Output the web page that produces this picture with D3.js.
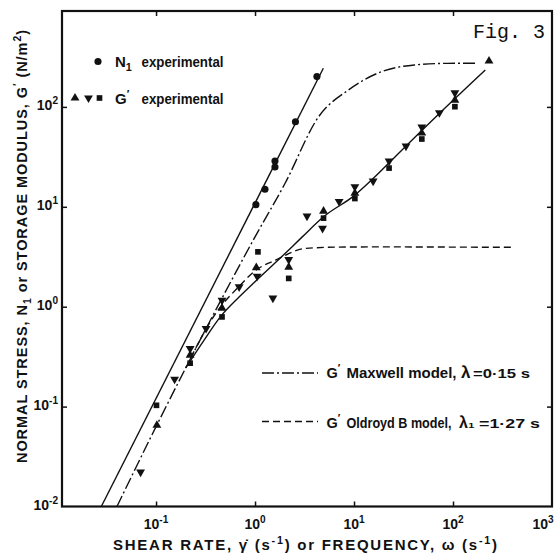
<!DOCTYPE html>
<html>
<head>
<meta charset="utf-8">
<script src="https://cdn.jsdelivr.net/npm/d3@7"></script>
<style>
  body { margin: 0; background: #fff; }
  text { font-family: "Liberation Sans", Arial, sans-serif; font-weight: bold; fill: #111; }
</style>
</head>
<body>
<div id="viz"></div>
<script>
// N1 experimental: shear rate (1/s), N1 (N/m2)
let n1Rate = [1.02, 1.26, 1.59, 1.59, 2.56, 4.22];
let n1Value = [10.5, 15.0, 25.0, 28.7, 71.1, 201];

// G' experimental, one array pair per symbol
let upFreq = [0.102, 0.221, 0.464, 1.03, 2.19, 4.92, 10.2, 48.4, 104.5, 231];
let upValue = [0.065, 0.327, 0.966, 2.46, 2.49, 9.06, 13.7, 54.8, 117, 288];

let downFreq = [0.0698, 0.154, 0.221, 0.32, 0.464, 0.691, 1.05, 1.515, 2.19, 3.35, 4.81, 7.07, 10.2, 15.6, 22.6, 33.5, 48.4, 72.8, 104.5];
let downValue = [0.0221, 0.188, 0.38, 0.605, 1.16, 1.58, 2.02, 1.22, 2.96, 8.07, 6.08, 11.3, 15.9, 18.1, 28.7, 40.6, 62.9, 87.5, 138];

let squareFreq = [0.101, 0.221, 0.464, 1.07, 2.19, 4.92, 10.2, 22.6, 48.4, 104.5];
let squareValue = [0.103, 0.272, 0.79, 3.54, 1.92, 7.7, 12.1, 24.4, 47.7, 100.5];

// fitted N1 line
let n1FitRate = [0.028, 4.9];
let n1FitValue = [0.01, 244];

// fitted G' curve
let gFitFreq = [0.2, 0.3, 0.45, 0.69, 1.0, 1.88, 3.0, 4.92, 10.2, 15, 30, 72.8, 212];
let gFitValue = [0.245, 0.45, 0.8, 1.25, 1.78, 3.2, 5.0, 7.95, 13.1, 18.5, 36.5, 86, 234];

// Maxwell model, lambda = 0.15 s
let maxwellFreq = [0.0401, 0.1, 0.2, 0.5, 1, 2, 4.4, 8.8, 18.9, 40.9, 88, 177];
let maxwellValue = [0.0099, 0.063, 0.245, 1.4, 5.0, 17, 80, 148, 225, 263, 273, 274];

// Oldroyd B model, lambda1 = 1.27 s
let oldroydFreq = [0.2, 0.4, 0.69, 1.02, 1.61, 3.22, 7, 20, 100, 412];
let oldroydValue = [0.245, 0.855, 1.6, 2.32, 2.92, 3.83, 3.95, 3.97, 3.95, 3.93];

let xTicks = [0.1, 1, 10, 100, 1000];
let xTickExp = ["-1", "0", "1", "2", "3"];
let yTicks = [0.01, 0.1, 1, 10, 100];
let yTickExp = ["-2", "-1", "0", "1", "2"];

let width = 556, height = 553;
let plotLeft = 62, plotRight = 552, plotTop = 11, plotBottom = 506.5;
let ink = "#111";

let svg = d3.select("#viz").append("svg")
  .attr("width", width)
  .attr("height", height);

let x = d3.scaleLog().domain([Math.pow(10, -1.95), 1000]).range([plotLeft, plotRight]);
let y = d3.scaleLog().domain([0.01, Math.pow(10, 2.96)]).range([plotBottom, plotTop]);

// text with sup (-1) / sub (1) pieces
function richText(t, parts) {
  let prev = 0;
  parts.forEach(function (p) {
    let off = p[1] === -1 ? -6 : p[1] === 1 ? 4 : 0;
    let ts = t.append("tspan").text(p[0]).attr("dy", off - prev);
    if (p[1] !== 0) ts.attr("font-size", "0.72em");
    prev = off;
  });
  return t;
}

svg.append("clipPath").attr("id", "plot")
  .append("rect")
  .attr("x", plotLeft).attr("y", plotTop)
  .attr("width", plotRight - plotLeft).attr("height", plotBottom - plotTop);

// axes with inward ticks
let tickLen = 5;
svg.append("g").attr("transform", `translate(0,${plotBottom})`)
  .call(d3.axisBottom(x).tickValues(xTicks.slice(0, 4)).tickSizeInner(-tickLen).tickSizeOuter(0).tickFormat(""));
svg.append("g").attr("transform", `translate(0,${plotTop})`)
  .call(d3.axisTop(x).tickValues(xTicks.slice(0, 4)).tickSizeInner(-tickLen).tickSizeOuter(0).tickFormat(""));
svg.append("g").attr("transform", `translate(${plotLeft},0)`)
  .call(d3.axisLeft(y).tickValues(yTicks.slice(1)).tickSizeInner(-tickLen).tickSizeOuter(0).tickFormat(""));
svg.append("g").attr("transform", `translate(${plotRight},0)`)
  .call(d3.axisRight(y).tickValues(yTicks.slice(1)).tickSizeInner(-tickLen).tickSizeOuter(0).tickFormat(""));
svg.selectAll(".domain").remove();
svg.selectAll(".tick line").attr("stroke", ink).attr("stroke-width", 1.5);

svg.append("rect")
  .attr("x", plotLeft).attr("y", plotTop)
  .attr("width", plotRight - plotLeft).attr("height", plotBottom - plotTop)
  .attr("fill", "none").attr("stroke", ink).attr("stroke-width", 2.2);

// tick labels
xTicks.forEach(function (v, i) {
  let t = svg.append("text")
    .attr("x", Math.min(x(v), plotRight - 9)).attr("y", 529)
    .attr("text-anchor", "middle").attr("font-size", 14);
  richText(t, [["10", 0], [xTickExp[i], -1]]);
});
yTicks.forEach(function (v, i) {
  let t = svg.append("text")
    .attr("x", 58).attr("y", y(v) + 3)
    .attr("text-anchor", "end").attr("font-size", 14);
  richText(t, [["10", 0], [yTickExp[i], -1]]);
});

// axis titles
richText(svg.append("text")
  .attr("x", 113).attr("y", 550)
  .attr("textLength", 384).attr("lengthAdjust", "spacing")
  .attr("font-size", 15),
  [["SHEAR RATE, \u03B3\u0307 (s", 0], ["-1", -1], [") or FREQUENCY, \u03C9 (s", 0], ["-1", -1], [")", 0]]);

richText(svg.append("text")
  .attr("transform", "translate(27,463) rotate(-90)")
  .attr("textLength", 433).attr("lengthAdjust", "spacing")
  .attr("font-size", 14.5),
  [["NORMAL STRESS, N", 0], ["1", 1], [" or STORAGE MODULUS, G", 0], ["\u2032", -1], [" (N/m", 0], ["2", -1], [")", 0]]);

// curves
let lineGen = d3.line()
  .x(d => x(d[0]))
  .y(d => y(d[1]))
  .curve(d3.curveMonotoneX);

let curves = svg.append("g").attr("clip-path", "url(#plot)")
  .attr("fill", "none").attr("stroke", ink).attr("stroke-width", 1.4);

curves.append("path").attr("d", lineGen(d3.zip(n1FitRate, n1FitValue)));
curves.append("path").attr("d", lineGen(d3.zip(gFitFreq, gFitValue)));
curves.append("path").attr("d", lineGen(d3.zip(maxwellFreq, maxwellValue)))
  .attr("stroke-dasharray", "12,3,2,3");
curves.append("path").attr("d", lineGen(d3.zip(oldroydFreq, oldroydValue)))
  .attr("stroke-dasharray", "7,4");

// markers
let triUp = d3.symbol().type(d3.symbolTriangle).size(34);
let square = d3.symbol().type(d3.symbolSquare).size(32);
let dot = d3.symbol().type(d3.symbolCircle).size(40);

function drawMarks(xs, ys, gen, rot) {
  svg.append("g").selectAll("path")
    .data(d3.zip(xs, ys))
    .join("path")
    .attr("d", gen)
    .attr("fill", ink)
    .attr("transform", d => `translate(${x(d[0])},${y(d[1])}) rotate(${rot})`);
}
drawMarks(n1Rate, n1Value, dot, 0);
drawMarks(upFreq, upValue, triUp, 0);
drawMarks(downFreq, downValue, triUp, 180);
drawMarks(squareFreq, squareValue, square, 0);

// legend, top left
svg.append("path").attr("d", dot).attr("fill", ink).attr("transform", "translate(98,61.5)");
richText(svg.append("text").attr("x", 115).attr("y", 66.5).attr("font-size", 15), [["N", 0], ["1", 1]]);
svg.append("text").attr("x", 141.5).attr("y", 66.5).attr("font-size", 15)
  .attr("textLength", 82).attr("lengthAdjust", "spacingAndGlyphs").text("experimental");

svg.append("path").attr("d", triUp).attr("fill", ink).attr("transform", "translate(75,98)");
svg.append("path").attr("d", triUp).attr("fill", ink).attr("transform", "translate(88.5,98) rotate(180)");
svg.append("path").attr("d", square).attr("fill", ink).attr("transform", "translate(99.5,98)");
richText(svg.append("text").attr("x", 115).attr("y", 103.5).attr("font-size", 15), [["G", 0], ["\u2032", -1]]);
svg.append("text").attr("x", 141.5).attr("y", 103.5).attr("font-size", 15)
  .attr("textLength", 82).attr("lengthAdjust", "spacingAndGlyphs").text("experimental");

// legend, models
let legY = [373, 421.5];
svg.append("line").attr("x1", 262).attr("x2", 318).attr("y1", legY[0]).attr("y2", legY[0])
  .attr("stroke", ink).attr("stroke-width", 1.4).attr("stroke-dasharray", "12,3,2,3");
svg.append("line").attr("x1", 262).attr("x2", 318).attr("y1", legY[1]).attr("y2", legY[1])
  .attr("stroke", ink).attr("stroke-width", 1.4).attr("stroke-dasharray", "7,4");

richText(svg.append("text").attr("x", 326.5).attr("y", legY[0] + 5).attr("font-size", 14.5), [["G", 0], ["\u2032", -1]]);
svg.append("text").attr("x", 346.5).attr("y", legY[0] + 5).attr("font-size", 14.5)
  .attr("textLength", 110).attr("lengthAdjust", "spacingAndGlyphs").text("Maxwell model,");
svg.append("text").attr("x", 461).attr("y", legY[0] + 5).attr("font-size", 17).text("\u03BB");
svg.append("text").attr("x", 473).attr("y", legY[0] + 5).attr("font-size", 12.5)
  .attr("textLength", 57).attr("lengthAdjust", "spacingAndGlyphs").text("=0\u00B715 s");

richText(svg.append("text").attr("x", 326.5).attr("y", legY[1] + 6).attr("font-size", 14.5), [["G", 0], ["\u2032", -1]]);
svg.append("text").attr("x", 346.5).attr("y", legY[1] + 6).attr("font-size", 14.5)
  .attr("textLength", 105).attr("lengthAdjust", "spacingAndGlyphs").text("Oldroyd B model,");
svg.append("text").attr("x", 459).attr("y", legY[1] + 6).attr("font-size", 16).text("\u03BB\u2081");
svg.append("text").attr("x", 479).attr("y", legY[1] + 6).attr("font-size", 13)
  .attr("textLength", 61).attr("lengthAdjust", "spacingAndGlyphs").text("=1\u00B727 s");

// figure number
svg.append("text").attr("x", 473).attr("y", 38)
  .style("font-family", "'Liberation Mono', 'DejaVu Sans Mono', monospace")
  .style("font-weight", "normal").attr("font-size", 20).text("Fig. 3");
</script>
</body>
</html>
